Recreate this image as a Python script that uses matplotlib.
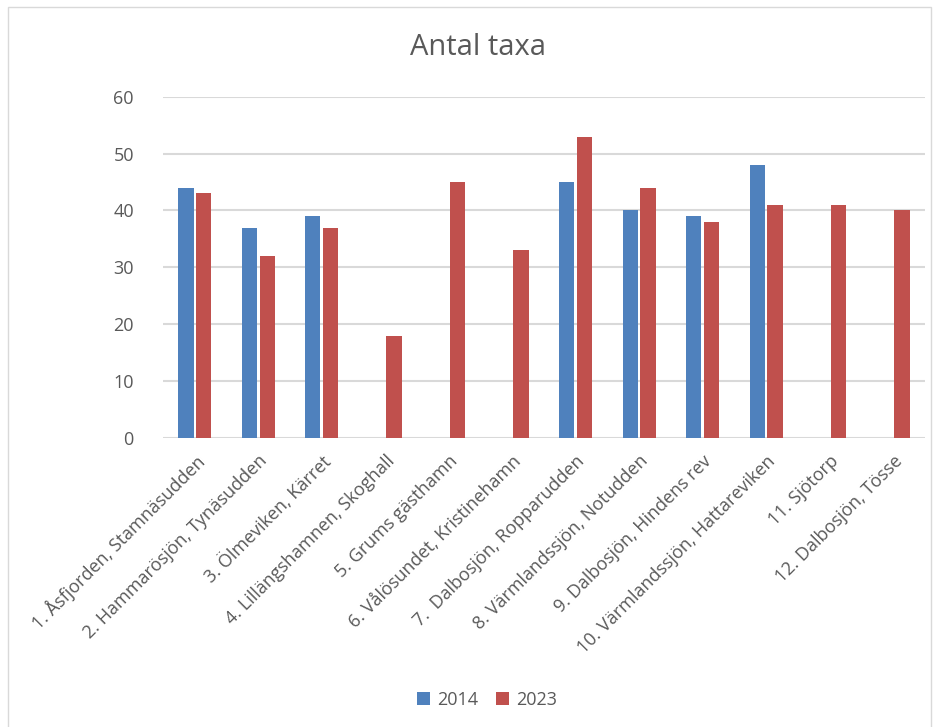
import matplotlib.pyplot as plt
import matplotlib.patches as mpatches
import numpy as np

plt.rcParams['font.family'] = ['Open Sans', 'DejaVu Sans']

# data
categories = [
    "1. Åsfjorden, Stamnäsudden",
    "2. Hammarösjön, Tynäsudden",
    "3. Ölmeviken, Kärret",
    "4. Lillängshamnen, Skoghall",
    "5. Grums gästhamn",
    "6. Vålösundet, Kristinehamn",
    "7.  Dalbosjön, Ropparudden",
    "8. Värmlandssjön, Notudden",
    "9. Dalbosjön, Hindens rev",
    "10. Värmlandssjön, Hattareviken",
    "11. Sjötorp",
    "12. Dalbosjön, Tösse",
]
vals_2014 = [44, 37, 39, np.nan, np.nan, np.nan, 45, 40, 39, 48, np.nan, np.nan]
vals_2023 = [43, 32, 37, 18, 45, 33, 53, 44, 38, 41, 41, 40]
yticks = [0, 10, 20, 30, 40, 50, 60]

grey = '#595959'
fig = plt.figure(figsize=(9.37, 7.27), dpi=100)
ax = fig.add_axes([0.174, 0.3975, 0.813, 0.4695])

x = np.arange(len(categories))
w = 0.24
ax.bar(x - 0.14, vals_2014, w, color='#4f81bd', label='2014', zorder=3)
ax.bar(x + 0.14, vals_2023, w, color='#c0504d', label='2023', zorder=3)

ax.set_xlim(-0.5, len(categories) - 0.5)
ax.set_ylim(0, 60)
ax.set_yticks(yticks)
ax.yaxis.grid(True, color='#d9d9d9', linewidth=1.5, zorder=0)
ax.set_axisbelow(True)
for s in ax.spines.values():
    s.set_visible(False)
ax.tick_params(axis='both', length=0, colors=grey)
ax.tick_params(axis='y', labelsize=13, pad=21)
ax.set_xticks(x)
ax.set_xticklabels(categories, rotation=45, ha='right', rotation_mode='anchor',
                   fontsize=13, color=grey)
ax.tick_params(axis='x', pad=10)

fig.text(0.51, 0.935, 'Antal taxa', ha='center', va='center', fontsize=21, color=grey)

fig.legend(loc='center', bbox_to_anchor=(487 / 937, 1 - 700 / 727),
           ncol=2, frameon=False, fontsize=13, handlelength=0.7, handleheight=0.7,
           columnspacing=1.0, handletextpad=0.4, labelcolor=grey)

# rand om diagrammet
fig.patches.append(mpatches.Rectangle((8 / 937, -0.01), 923 / 937, 1.0, transform=fig.transFigure,
                                      fill=False, edgecolor='#d9d9d9', linewidth=1))

fig.savefig('out.png', dpi=100)
